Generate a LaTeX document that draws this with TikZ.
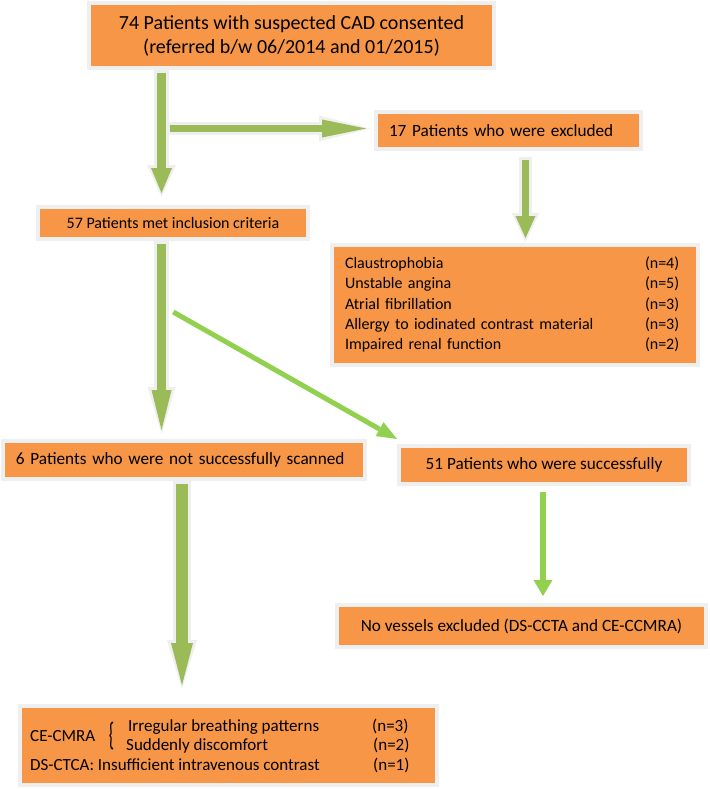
\documentclass[tikz,border=0pt]{standalone}
\usepackage{fontspec}
\setmainfont{Carlito}
\usepackage{graphicx}
\usetikzlibrary{arrows.meta,calc}
\definecolor{orng}{HTML}{F79646}
\definecolor{olive}{HTML}{9BBB59}
\definecolor{lgreen}{HTML}{92D050}
\definecolor{halo}{HTML}{EFEFEF}
\begin{document}
\begin{tikzpicture}[x=1pt,y=-1pt,
  box/.style={fill=orng, draw=halo, line width=4pt, inner sep=0pt, text=black},
  fsA/.style={font=\fontsize{20}{24}\selectfont},
  fsB/.style={font=\fontsize{17.2}{20}\selectfont},
  fsC/.style={font=\fontsize{16}{20.25}\selectfont},
  txt/.style={inner sep=0pt, anchor=base west, text=black, font=\fontsize{17}{20}\selectfont},
  fatarrow/.style n args={6}{draw=olive, line width=#1, shorten <=3pt, shorten >=4pt,
     -{Triangle[width=#2,length=#3,line width=0pt]},
     preaction={draw=halo, line width=#4, shorten <=0pt, shorten >=0pt,
     -{Triangle[width=#5,length=#6,line width=0pt]}}},
  thinarrow/.style n args={3}{draw=lgreen, line width=#1,
     -{Triangle[width=#2,length=#3,line width=0pt]}}
]
\useasboundingbox (0,0) rectangle (709,789);

% boxes
\node[box, fsA, minimum width=405pt, minimum height=65pt, align=center] (b1) at (291.5,35.5)
  {74 Patients with suspected CAD consented\\(referred b/w 06/2014 and 01/2015)};
\node[box, fsB, minimum height=37pt, text width=239pt, inner xsep=13pt, align=left] (b17) at (508.5,130.5)
  {17 Patients who were excluded};
\node[box, fsC, minimum width=270pt, minimum height=32pt] (b57) at (173,223)
  {57 Patients met inclusion criteria};
\node[box, fsC, minimum height=120pt, text width=340pt, inner xsep=13pt, align=left] (blist) at (515,305)
  {\begin{tabular}{@{}p{300pt}@{}l@{}}
   Claustrophobia & (n=4)\\
   Unstable angina & (n=5)\\
   Atrial fibrillation & (n=3)\\
   Allergy to iodinated contrast material & (n=3)\\
   Impaired renal function & (n=2)
   \end{tabular}};
\node[box, fsB, minimum height=38pt, text width=336pt, inner xsep=13pt, align=left] (b6) at (184,460)
  {6 Patients who were not successfully scanned};
\node[box, fsB, minimum width=290pt, minimum height=38pt] (b51) at (544,465)
  {51 Patients who were successfully};
\node[box, fsB, minimum width=369pt, minimum height=42pt] (bno) at (521.5,626)
  {No vessels excluded (DS-CCTA and CE-CCMRA)};
\node[box, minimum width=417pt, minimum height=79pt] (bbot) at (228.5,745.5) {};

% bottom box contents
\node[txt] (t1) at (30,741) {CE-CMRA};
\node[inner sep=0pt, text=black, font=\fontsize{17}{20}\selectfont] (brace) at (111.5,736.5) {\scalebox{1}[1.9]{\{}};
\node[txt] (t2) at (128,731.7) {Irregular breathing patterns};
\node[txt] (t3) at (126,750.7) {Suddenly discomfort};
\node[txt] (t4) at (30,770.7) {DS-CTCA: Insufficient intravenous contrast};
\node[txt] (n1) at (372,731.7) {(n=3)};
\node[txt] (n2) at (373,750.7) {(n=2)};
\node[txt] (n3) at (373,770.7) {(n=1)};

% connector end points
\coordinate (a1s) at ($(b1.south)+(-130,0)$);
\coordinate (a1e) at ($(b57.north)+(-11.5,-8)$);
\coordinate (a2s) at ($(b17.west)+(-207,-2)$);
\coordinate (a2e) at ($(b17.west)+(-4,-2)$);
\coordinate (a3s) at ($(b17.south)+(17,6)$);
\coordinate (a3e) at ($(blist.north)+(10.5,-1)$);
\coordinate (a4s) at ($(b57.south)+(-11.5,0)$);
\coordinate (a4e) at ($(b6.north)+(-22.5,-5)$);
\coordinate (a5s) at ($(b57.south)+(0.3,71)$);
\coordinate (a5e) at ($(b51.north west)+(0,-5)$);
\coordinate (a6s) at ($(b6.south)+(-2,0)$);
\coordinate (a6e) at ($(bbot.north)+(-46.5,-15)$);
\coordinate (a7s) at ($(b51.south)+(-1,6)$);
\coordinate (a7e) at ($(bno.north)+(21.5,-7)$);

% connectors
\draw[fatarrow={9pt}{21pt}{25pt}{15pt}{29pt}{32pt}] (a1s) -- (a1e);
\draw[fatarrow={7pt}{18pt}{44pt}{13pt}{26pt}{51pt}] (a2s) -- (a2e);
\draw[fatarrow={7pt}{20pt}{22pt}{13pt}{28pt}{29pt}] (a3s) -- (a3e);
\draw[fatarrow={9pt}{20pt}{40pt}{15pt}{28pt}{47pt}] (a4s) -- (a4e);
\draw[fatarrow={12pt}{22pt}{42pt}{18pt}{30pt}{49pt}] (a6s) -- (a6e);
\draw[thinarrow={5pt}{16pt}{20pt}] (a5s) -- (a5e);
\draw[thinarrow={6pt}{19pt}{16pt}] (a7s) -- (a7e);
\end{tikzpicture}
\end{document}
